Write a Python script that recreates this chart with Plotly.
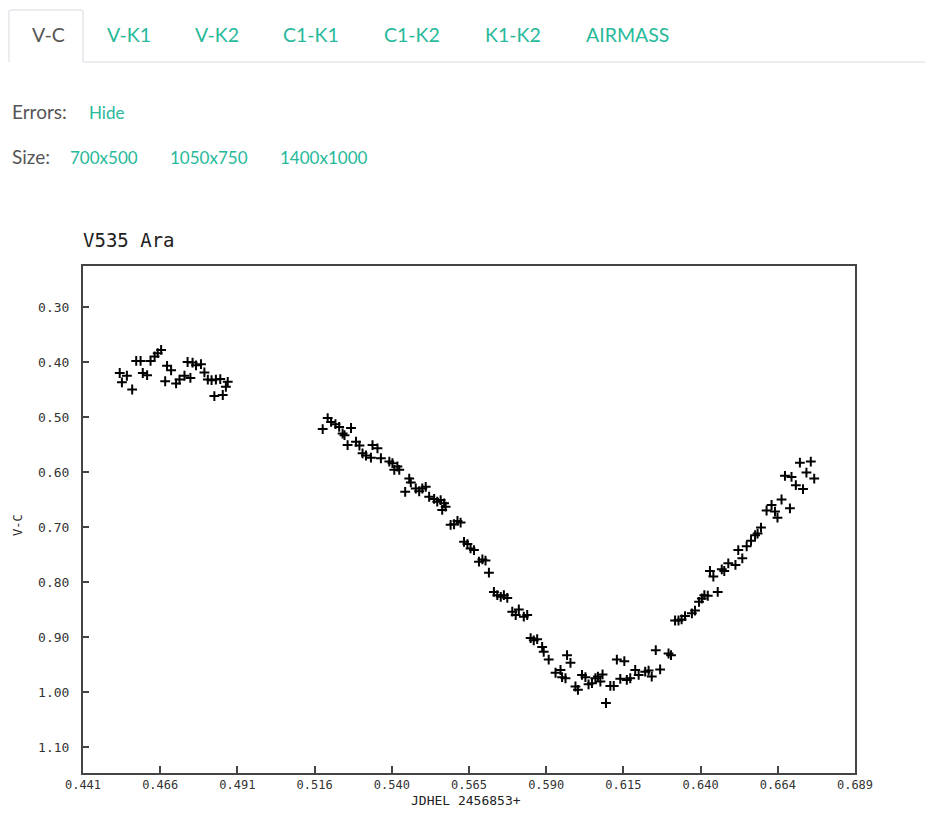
import plotly.graph_objects as go
import numpy as np

# ---------------- data ----------------
jd_offset = [
    0.4528, 0.4551, 0.4535, 0.4568, 0.4581, 0.4595, 0.4602, 0.4616, 0.4627, 0.4640,
    0.4650, 0.4661, 0.4680, 0.4693, 0.4674, 0.4709, 0.4720, 0.4736, 0.4755, 0.4746,
    0.4762, 0.4773, 0.4789, 0.4800, 0.4811, 0.4823, 0.4837, 0.4851, 0.4832, 0.4859,
    0.4869, 0.4875,
    0.5180, 0.5196, 0.5207, 0.5221, 0.5233, 0.5244, 0.5250, 0.5271, 0.5260, 0.5287,
    0.5298, 0.5308, 0.5319, 0.5335, 0.5340, 0.5356, 0.5367, 0.5394, 0.5404, 0.5420,
    0.5426, 0.5410, 0.5458, 0.5463, 0.5445, 0.5479, 0.5490, 0.5500, 0.5511, 0.5522,
    0.5538, 0.5548, 0.5559, 0.5570, 0.5575, 0.5564,
    0.5591, 0.5602, 0.5613, 0.5623, 0.5634, 0.5645, 0.5655, 0.5666, 0.5682, 0.5693,
    0.5703, 0.5714, 0.5730, 0.5741, 0.5752, 0.5762, 0.5773, 0.5789, 0.5800, 0.5810,
    0.5826, 0.5837,
    0.5848, 0.5858, 0.5869, 0.5885, 0.5890, 0.5906, 0.5928, 0.5944, 0.5949, 0.5960,
    0.5965, 0.5976, 0.5992, 0.6000, 0.6013, 0.6024, 0.6034, 0.6045, 0.6056, 0.6064,
    0.6072, 0.6079, 0.6090, 0.6104, 0.6115, 0.6125, 0.6136, 0.6149, 0.6157, 0.6168,
    0.6184, 0.6195, 0.6216, 0.6227, 0.6237, 0.6250, 0.6264, 0.6291, 0.6299,
    0.6312, 0.6323, 0.6333, 0.6344, 0.6366, 0.6376, 0.6389, 0.6398, 0.6406, 0.6417,
    0.6449, 0.6424, 0.6435, 0.6462, 0.6470, 0.6483, 0.6506, 0.6515, 0.6528, 0.6542,
    0.6556, 0.6569, 0.6577, 0.6588, 0.6606, 0.6622, 0.6633, 0.6641, 0.6654, 0.6681,
    0.6665, 0.6686, 0.6700, 0.6713, 0.6748, 0.6734, 0.6723, 0.6759,
]
v_minus_c = [
    0.420, 0.425, 0.437, 0.450, 0.398, 0.398, 0.420, 0.424, 0.398, 0.390,
    0.384, 0.378, 0.407, 0.415, 0.435, 0.439, 0.432, 0.425, 0.429, 0.400,
    0.401, 0.406, 0.404, 0.419, 0.432, 0.433, 0.432, 0.431, 0.462, 0.460,
    0.445, 0.436,
    0.522, 0.502, 0.509, 0.513, 0.518, 0.530, 0.533, 0.520, 0.551, 0.545,
    0.552, 0.566, 0.570, 0.574, 0.551, 0.557, 0.575, 0.581, 0.584, 0.590,
    0.596, 0.596, 0.612, 0.619, 0.636, 0.630, 0.635, 0.630, 0.627, 0.645,
    0.649, 0.654, 0.651, 0.657, 0.663, 0.669,
    0.696, 0.695, 0.689, 0.692, 0.727, 0.731, 0.739, 0.742, 0.763, 0.759,
    0.761, 0.783, 0.818, 0.824, 0.827, 0.824, 0.829, 0.854, 0.860, 0.850,
    0.863, 0.860,
    0.902, 0.906, 0.904, 0.918, 0.927, 0.941, 0.965, 0.960, 0.973, 0.975,
    0.933, 0.947, 0.990, 0.996, 0.969, 0.973, 0.986, 0.984, 0.975, 0.972,
    0.981, 0.968, 1.020, 0.989, 0.989, 0.941, 0.976, 0.944, 0.978, 0.975,
    0.960, 0.969, 0.963, 0.961, 0.972, 0.924, 0.959, 0.930, 0.933,
    0.870, 0.870, 0.868, 0.862, 0.857, 0.852, 0.836, 0.830, 0.824, 0.825,
    0.818, 0.780, 0.790, 0.777, 0.780, 0.766, 0.769, 0.742, 0.757, 0.735,
    0.725, 0.715, 0.712, 0.701, 0.670, 0.660, 0.672, 0.683, 0.650, 0.666,
    0.607, 0.609, 0.624, 0.583, 0.581, 0.601, 0.631, 0.612,
]

star_name = "V535 Ara"
x_title = "JDHEL 2456853+"
y_title = "V-C"
x_tick_labels = ["0.441", "0.466", "0.491", "0.516", "0.540", "0.565",
                 "0.590", "0.615", "0.640", "0.664", "0.689"]
y_tick_values = [0.30, 0.40, 0.50, 0.60, 0.70, 0.80, 0.90, 1.00, 1.10]
y_tick_labels = ["0.30", "0.40", "0.50", "0.60", "0.70", "0.80", "0.90", "1.00", "1.10"]
tab_labels = ["V-C", "V-K1", "V-K2", "C1-K1", "C1-K2", "K1-K2", "AIRMASS"]
size_labels = ["700x500", "1050x750", "1400x1000"]

x_min, x_max = 0.441, 0.689
y_top, y_bottom = 0.2255, 1.1473

# ---------------- layout geometry (page pixels; body has an 8px margin) ----------------
OFF = 8
W, H = 933 - OFF, 827 - OFF
L, R, T, B = 83, 855, 266, 773

def px(xp):
    return (xp - L) / (R - L)

def py(yp):
    return (B - yp) / (B - T)

TEAL = "#26b99a"
DARK = "#555555"
MONO = "DejaVu Sans Mono, Liberation Mono, monospace"
SANS = "Lato, Open Sans, sans-serif"

fig = go.Figure()
fig.add_trace(go.Scatter(
    x=jd_offset, y=v_minus_c, mode="markers",
    marker=dict(symbol="cross-thin", size=7, color="black",
                line=dict(color="black", width=2)),
    hoverinfo="x+y", showlegend=False,
))

annotations = []
tab_centers = [48, 129, 217, 311, 412, 513, 627]
for i, (lab, cx) in enumerate(zip(tab_labels, tab_centers)):
    annotations.append(dict(
        text=lab, x=px(cx), y=py(35), xref="paper", yref="paper",
        xanchor="center", yanchor="middle", showarrow=False,
        font=dict(family=SANS, size=19.5, color=DARK if i == 0 else TEAL)))

annotations.append(dict(text="Errors:", x=px(10), y=py(111), xref="paper", yref="paper",
                        xanchor="left", yanchor="middle", showarrow=False,
                        font=dict(family=SANS, size=19, color=DARK)))
annotations.append(dict(text="Hide", x=px(87), y=py(112), xref="paper", yref="paper",
                        xanchor="left", yanchor="middle", showarrow=False,
                        font=dict(family=SANS, size=17, color=TEAL)))
annotations.append(dict(text="Size:", x=px(10), y=py(156), xref="paper", yref="paper",
                        xanchor="left", yanchor="middle", showarrow=False,
                        font=dict(family=SANS, size=19, color=DARK)))
for lab, lx in zip(size_labels, [68, 168, 278]):
    annotations.append(dict(text=lab, x=px(lx), y=py(157), xref="paper", yref="paper",
                            xanchor="left", yanchor="middle", showarrow=False,
                            font=dict(family=SANS, size=17, color=TEAL)))

annotations.append(dict(text=star_name, x=px(81), y=py(240), xref="paper", yref="paper",
                        xanchor="left", yanchor="middle", showarrow=False,
                        font=dict(family=MONO, size=19, color="#222")))
annotations.append(dict(text=y_title, x=px(18), y=py(525), xref="paper", yref="paper",
                        xanchor="center", yanchor="middle", showarrow=False, textangle=-90,
                        font=dict(family=MONO, size=12, color="#222")))
annotations.append(dict(text=x_title, x=px(466), y=py(800), xref="paper", yref="paper",
                        xanchor="center", yanchor="middle", showarrow=False,
                        font=dict(family=MONO, size=13, color="#222")))

tab_line = "#e3e6ea"
shapes = [
    dict(type="path", xref="paper", yref="paper",
         path=f"M {px(9)} {py(62)} L {px(9)} {py(12)} Q {px(9)} {py(10)} {px(12)} {py(10)} "
              f"L {px(80)} {py(10)} Q {px(83)} {py(10)} {px(83)} {py(12)} L {px(83)} {py(62)}",
         line=dict(color=tab_line, width=1.5)),
    dict(type="line", xref="paper", yref="paper", x0=px(83), x1=px(933), y0=py(62), y1=py(62),
         line=dict(color=tab_line, width=1.5)),
]

fig.update_layout(
    width=W, height=H,
    margin=dict(l=L - OFF, r=W - (R - OFF), t=T - OFF, b=H - (B - OFF), pad=0),
    paper_bgcolor="white", plot_bgcolor="white",
    annotations=annotations, shapes=shapes,
    xaxis=dict(range=[x_min, x_max], tickvals=list(np.linspace(x_min, x_max, len(x_tick_labels))),
               ticktext=x_tick_labels, ticks="inside", ticklen=7, tickwidth=1.5, tickcolor="#444",
               showgrid=False, zeroline=False, showline=True, linecolor="#444", linewidth=2,
               mirror=True,
               tickfont=dict(family=MONO, size=12, color="#333")),
    yaxis=dict(range=[y_bottom, y_top], tickvals=y_tick_values, ticktext=y_tick_labels,
               ticks="inside", ticklen=6, tickwidth=1.5, tickcolor="#444",
               showgrid=False, zeroline=False, showline=True, linecolor="#444", linewidth=2,
               mirror=True, ticklabelstandoff=9,
               tickfont=dict(family=MONO, size=13, color="#333")),
)

fig.write_html("out.html")
